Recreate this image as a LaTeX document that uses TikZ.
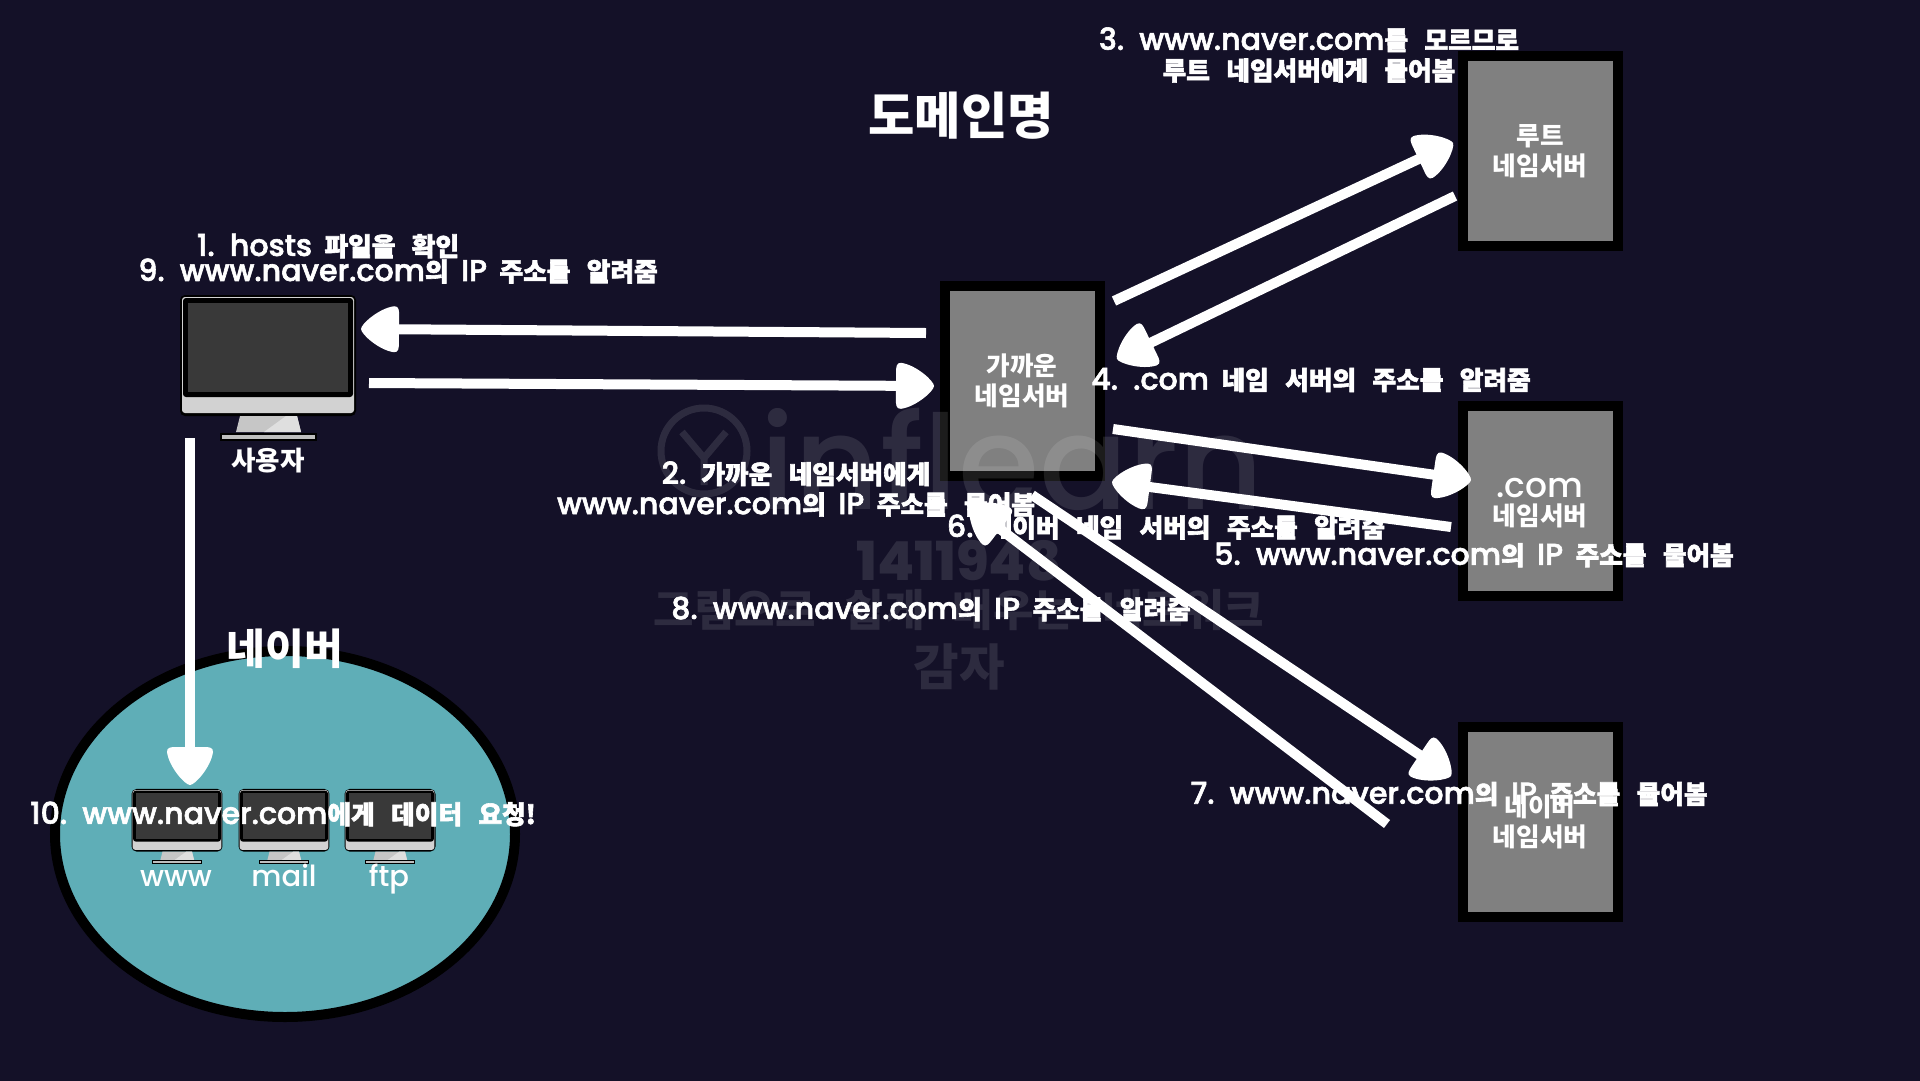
\documentclass[tikz,border=0pt]{standalone}
\usepackage{fontspec}
\usepackage{tikz}
\usetikzlibrary{arrows.meta,calc,shapes.geometric}
\setmainfont[Scale=1.08,WordSpace=1.6]{Poppins Medium}
\newfontfamily\krfont[Scale=0.92,WordSpace=2.8]{Noto Sans CJK KR}
\newcommand{\hg}[1]{{\krfont\bfseries #1}}
\definecolor{nightbg}{RGB}{20,17,40}
\definecolor{tealfill}{RGB}{95,174,183}
\definecolor{boxgray}{RGB}{128,128,128}
\pgfdeclarearrow{
  name=Blob,
  setup code={\pgfarrowssettipend{0bp}\pgfarrowssetlineend{-32bp}\pgfarrowssetvisualbackend{-38bp}\pgfarrowssetbackend{-38bp}},
  drawing code={
    \pgfpathmoveto{\pgfqpoint{0bp}{0bp}}
    \pgfpathcurveto{\pgfqpoint{0bp}{5bp}}{\pgfqpoint{-18bp}{21bp}}{\pgfqpoint{-33bp}{23bp}}
    \pgfpathcurveto{\pgfqpoint{-38bp}{23.5bp}}{\pgfqpoint{-38bp}{18bp}}{\pgfqpoint{-38bp}{14bp}}
    \pgfpathlineto{\pgfqpoint{-38bp}{-14bp}}
    \pgfpathcurveto{\pgfqpoint{-38bp}{-18bp}}{\pgfqpoint{-38bp}{-23.5bp}}{\pgfqpoint{-33bp}{-23bp}}
    \pgfpathcurveto{\pgfqpoint{-18bp}{-21bp}}{\pgfqpoint{0bp}{-5bp}}{\pgfqpoint{0bp}{0bp}}
    \pgfpathclose\pgfusepathqfill},
  defaults={}
}
\tikzset{
  srvbox/.style={draw=black,fill=boxgray,line width=10bp,minimum width=155bp,minimum height=190bp,
    inner sep=0pt,text=white,align=center,font=\fontsize{28}{30}\selectfont},
  flow/.style={draw=white,line width=10bp,-{Blob}},
  flowlabel/.style={text=white,align=center,inner sep=0pt,
    font=\fontsize{28}{30.5}\selectfont\special{pdf:code 2 Tr 0.6 w 0 0 0 RG}},
  plainlabel/.style={text=white,align=center,inner sep=0pt,font=\fontsize{27}{30}\selectfont},
  heading/.style={text=white,inner sep=0pt,font=\fontsize{55}{55}\selectfont},
  wmark/.style={text=white,opacity=0.11,inner sep=0pt},
}
% name, position, scale
\newcommand{\monitor}[3]{
  \coordinate (#1) at (#2);
  \begin{scope}[shift={(#2)},scale=#3]
    \fill [black,rounded corners=5bp] (-88,-60) rectangle (88,61);
    \fill [black] (-48,78) rectangle (49,86);
    \fill [gray!35!white,rounded corners=3bp] (-86,-58) rectangle (86,58);
    \fill [black,rounded corners=3bp] (-85,-57) rectangle (85,42);
    \fill [gray!45!black] (-80,-52) rectangle (80,37);
    \fill [gray!45!white] (-28,61) -- (29,61) -- (33,77) -- (-32,77) -- cycle;
    \fill [gray!25!white] (29,61) -- (33,77) -- (-4,77) -- (18,61) -- cycle;
    \fill [gray!50!white] (-46,80) rectangle (47,84);
  \end{scope}
}
\begin{document}
\begin{tikzpicture}[x=1bp,y=-1bp,>=Latex]
\useasboundingbox (0,0) rectangle (1920,1080);
\fill [nightbg] (-3,-3) rectangle (1923,1083);
%%
\node (net) at (285,834) [draw=black,fill=tealfill,line width=10bp,ellipse,minimum width=460bp,minimum height=366bp] {};
\node (near) at (1022,381) [srvbox] {\hg{가까운}\\\hg{네임서버}};
\node (root) at (1540,151) [srvbox] {\hg{루트}\\\hg{네임서버}};
\node (com) at (1540,501) [srvbox] {\vphantom{\hg{네}}\raisebox{-2bp}[0pt][0pt]{\fontsize{32}{30}\selectfont .com}\\\hg{네임서버}};
\node (naver) at (1540,822) [srvbox] {\hg{네이버}\\\hg{네임서버}};
\monitor{user}{268,355}{1}
\monitor{www}{177,820}{0.517}
\monitor{mail}{284,820}{0.517}
\monitor{ftp}{390,820}{0.517}
%% faint marks behind the arrows
\draw [white,opacity=0.11,line width=7bp] (704,451) circle (43);
\draw [white,opacity=0.11,line width=7bp] (682,432) -- (704,458) -- (726,432) (704,458) -- (704,485);
\node (markname) at (1012,459) [wmark,font=\fontsize{122}{122}\selectfont] {inflearn};
\node (marknum) at (959,561) [wmark,font=\fontsize{50}{50}\selectfont\bfseries] {1411948};
\node (marktitle) at (959,610) [wmark,font=\fontsize{48}{48}\selectfont] {\hg{그림으로 쉽게 배우는 네트워크}};
\node (markuser) at (959,667) [wmark,font=\fontsize{54}{54}\selectfont] {\hg{감자}};
%%
\draw [flow] ($(near)+(-96,-48)$) -- ($(user)+(93,-26)$);
\draw [flow] ($(user)+(101,28)$) -- ($(near)+(-88,5)$);
\draw [flow] ($(near)+(92,-80)$) -- ($(root)+(-87,-8)$);
\draw [flow] ($(root)+(-85,45)$) -- ($(near)+(95,-22)$);
\draw [flow] ($(near)+(91,48)$) -- ($(com)+(-69,-21)$);
\draw [flow] ($(com)+(-89,26)$) -- ($(near)+(90,101)$);
\draw [flow] ($(near)+(10,114)$) -- ($(naver)+(-89,-46)$);
\draw [flow] ($(naver)+(-153,2)$) -- ($(near)+(-52,125)$);
\draw [flow] ($(user)+(-78,83)$) -- ($(www)+(13,-35)$);
%%
\node (title) at (961,116) [heading] {\hg{도메인명}};
\node (navername) at (285,649) [text=white,inner sep=0pt,font=\fontsize{46}{46}\selectfont] {\hg{네이버}};
\node (username) at (268,461) [text=white,inner sep=0pt,font=\fontsize{29}{30}\selectfont] {\hg{사용자}};
\node (wwwname) at (176,886) [plainlabel,anchor=base] {www};
\node (mailname) at (284,886) [plainlabel,anchor=base] {mail};
\node (ftpname) at (389,886) [plainlabel,anchor=base] {ftp};
\node (step1) at (328,246) [flowlabel] {1. hosts \hg{파일을 확인}};
\node (step9) at (398,271) [flowlabel] {9. www.naver.com\hg{의} IP \hg{주소를 알려줌}};
\node (step2) at (796,489) [flowlabel] {2. \hg{가까운 네임서버에게}\\www.naver.com\hg{의} IP \hg{주소를 물어봄}};
\node (step3) at (1309,55) [flowlabel] {3. www.naver.com\hg{를 모르므로}\\\hg{루트 네임서버에게 물어봄}};
\node (step4) at (1311,380) [flowlabel] {4. .com \hg{네임 서버의 주소를 알려줌}};
\node (step5) at (1474,555) [flowlabel] {5. www.naver.com\hg{의} IP \hg{주소를 물어봄}};
\node (step6) at (1166,527) [flowlabel] {6. \hg{네이버 네임 서버의 주소를 알려줌}};
\node (step7) at (1449,794) [flowlabel] {7. www.naver.com\hg{의} IP \hg{주소를 물어봄}};
\node (step8) at (931,609) [flowlabel] {8. www.naver.com\hg{의} IP \hg{주소를 알려줌}};
\node (step10) at (283,814) [flowlabel] {10. www.naver.com\hg{에게 데이터 요청!}};
%
\end{tikzpicture}
\end{document}
